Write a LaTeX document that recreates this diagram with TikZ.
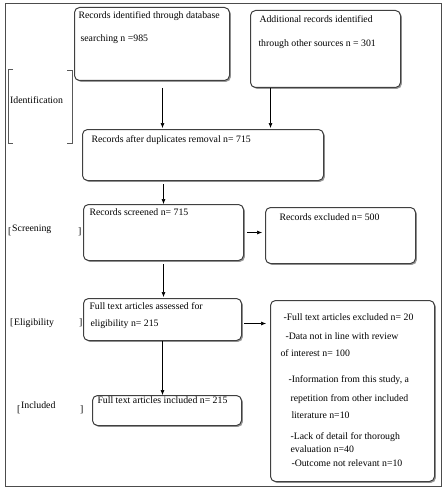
\documentclass[tikz,border=0pt]{standalone}
\usepackage{fontspec}
\setmainfont{Liberation Serif}
\usetikzlibrary{arrows.meta,shadows}

\newcommand{\boxtxt}[3]{\parbox[c][#2][t]{#1}{\raggedright #3}}
\newcommand{\firstline}[1]{\rule{0pt}{#1}}

\tikzset{
  recbox/.style={draw=black!75, line width=1pt, rounded corners=5pt, fill=white,
    drop shadow={shadow xshift=1.4pt, shadow yshift=-1.4pt, fill=black!40, opacity=1},
    inner sep=0pt, anchor=north west},
  arr/.style={-{Latex[length=5pt,width=4pt]}, line width=0.6pt},
  stage/.style={inner sep=0pt, anchor=base west},
  bracketline/.style={draw=black!65, line width=0.9pt},
}

\begin{document}
\begin{tikzpicture}[x=1pt, y=-1pt, font=\fontsize{9.8}{12}\selectfont]
    \useasboundingbox (0,0) rectangle (446,492);
    \draw[black!70, line width=1pt] (5,4) rectangle (441,486); %FRAME

    % boxes
    \node[recbox, minimum width=155pt, minimum height=73pt] (b1) at (74,7)
      {\boxtxt{155pt}{73pt}{\hspace*{4pt}\firstline{11.3pt}Records identified through database\\[11pt]
       \hspace*{6pt}searching n =985}};
    \node[recbox, minimum width=150pt, minimum height=77pt] (b2) at (250,10)
      {\boxtxt{150pt}{77pt}{\hspace*{9pt}\firstline{12.3pt}Additional records identified\\[12pt]
       \hspace*{8pt}through other sources n = 301}};
    \node[recbox, minimum width=241pt, minimum height=51pt] (b3) at (82,129)
      {\boxtxt{241pt}{51pt}{\hspace*{9pt}\firstline{13.3pt}Records after duplicates removal n= 715}};
    \node[recbox, minimum width=160pt, minimum height=56pt] (b4) at (83,204)
      {\boxtxt{160pt}{56pt}{\hspace*{6pt}\firstline{11.3pt}Records screened n= 715}};
    \node[recbox, minimum width=150pt, minimum height=56pt] (b5) at (265,207)
      {\boxtxt{150pt}{56pt}{\hspace*{14pt}\firstline{13.3pt}Records excluded n= 500}};
    \node[recbox, minimum width=158pt, minimum height=42pt] (b6) at (83,298)
      {\boxtxt{158pt}{42pt}{\hspace*{6pt}\firstline{11.3pt}Full text articles assessed for\\[5pt]
       \hspace*{7pt}eligibility n= 215}};
    \node[recbox, minimum width=164pt, minimum height=181pt] (b7) at (270,300)
      {\boxtxt{164pt}{181pt}{\hspace*{13pt}\firstline{20.3pt}-Full text articles excluded n= 20\\[7pt]
       \hspace*{15pt}-Data not in line with review\\[5pt]
       \hspace*{10pt}of interest n= 100\\[14pt]
       \hspace*{18pt}-Information from this study, a\\[7pt]
       \hspace*{20pt}repetition from other included\\[5pt]
       \hspace*{21pt}literature n=10\\[9pt]
       \hspace*{20pt}-Lack of detail for thorough\\[1pt]
       \hspace*{20pt}evaluation n=40\\[2pt]
       \hspace*{21pt}-Outcome not relevant n=10}};
    \node[recbox, minimum width=149pt, minimum height=30pt] (b8) at (92,395)
      {\boxtxt{149pt}{30pt}{\hspace*{5pt}\firstline{8.3pt}Full text articles included n= 215}};

    % arrows
    \draw[arr, shorten >=1pt] ([xshift=10.5pt,yshift=-7pt]b1.south) -- ([xshift=10.5pt]b1.south |- b3.north);
    \draw[arr, shorten >=1pt] ([xshift=-55pt]b2.south) -- ([xshift=-55pt]b2.south |- b3.north);
    \draw[arr, shorten <=3pt] (b4.north |- b3.south) -- (b4.north);
    \draw[arr, shorten <=3pt, shorten >=3pt] (b4.east) -- (b4.east -| b5.west);
    \draw[arr, shorten <=3pt, shorten >=1pt] (b4.south) -- (b4.south |- b6.north);
    \draw[arr, shorten <=2pt, shorten >=4pt] ([yshift=-4pt]b6.east) -- ([yshift=-4pt]b6.east -| b7.west);
    \draw[arr] (b6.south) -- (b6.south |- b8.north);

    % stages
    \draw[bracketline] (13,69) -- (8,69) -- (8,143) -- (13,143);
    \draw[bracketline] (67,70) -- (72,70) -- (72,143) -- (67,143);
    \node[stage, anchor=west] (idlab) at (10,100) {Identification};
    \node[stage] (scrl) at (8,234.5) {[};
    \node[stage] (scrlab) at (12,231) {Screening};
    \node[stage] (scrr) at (78,234.5) {]};
    \node[stage] (elil) at (10,325.5) {[};
    \node[stage] (elilab) at (14,325) {Eligibility};
    \node[stage] (elir) at (79,325.5) {]};
    \node[stage] (incl) at (17,412.5) {[};
    \node[stage] (inclab) at (21,408) {Included};
    \node[stage] (incr) at (80,412.5) {]};
\end{tikzpicture}
\end{document}
